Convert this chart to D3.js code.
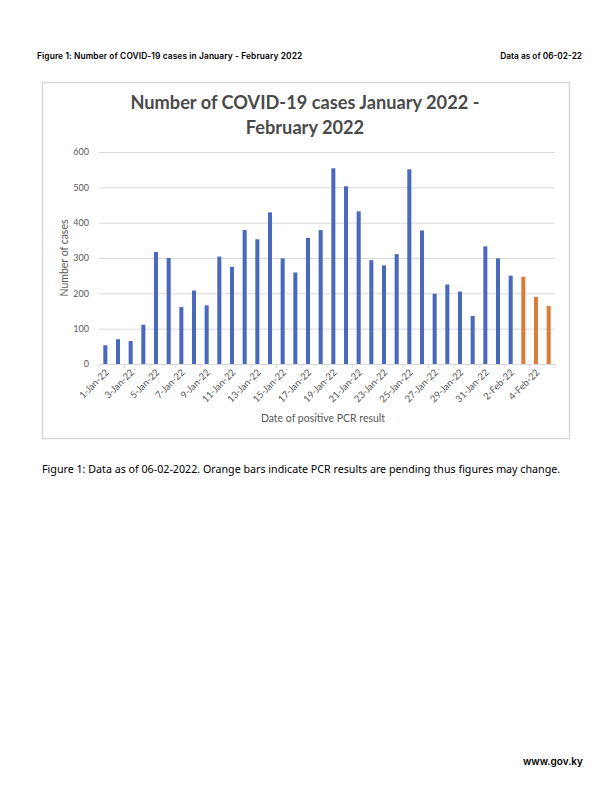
<!DOCTYPE html>
<html>
<head>
<meta charset="utf-8">
<script src="https://cdn.jsdelivr.net/npm/d3@7"></script>
<style>
  html, body { margin: 0; padding: 0; background: #fff; }
  svg { display: block; }
</style>
</head>
<body>
<div id="page"></div>
<script>
// data
var dates = ['1-Jan-22','2-Jan-22','3-Jan-22','4-Jan-22','5-Jan-22','6-Jan-22','7-Jan-22','8-Jan-22',
  '9-Jan-22','10-Jan-22','11-Jan-22','12-Jan-22','13-Jan-22','14-Jan-22','15-Jan-22','16-Jan-22',
  '17-Jan-22','18-Jan-22','19-Jan-22','20-Jan-22','21-Jan-22','22-Jan-22','23-Jan-22','24-Jan-22',
  '25-Jan-22','26-Jan-22','27-Jan-22','28-Jan-22','29-Jan-22','30-Jan-22','31-Jan-22','1-Feb-22',
  '2-Feb-22','3-Feb-22','4-Feb-22','5-Feb-22'];
var cases = [53, 70, 65, 111, 317, 300, 161, 208, 166, 304, 275, 379, 353, 429, 299, 259,
  357, 379, 554, 503, 432, 294, 279, 311, 551, 378, 199, 225, 205, 136, 333, 299,
  250, 247, 190, 164];
var pending = ['3-Feb-22', '4-Feb-22', '5-Feb-22'];
var yTicks = [0, 100, 200, 300, 400, 500, 600];

var chartFont = 'Lato, Carlito, "Open Sans", sans-serif';
var grey = '#595959';

var W = 612, H = 791;
var svg = d3.select('#page').append('svg')
    .attr('width', W)
    .attr('height', H);

// page header
svg.append('text')
    .attr('x', 37).attr('y', 59)
    .style('font-family', 'Inter, "Liberation Sans", sans-serif')
    .style('font-size', '8.4px').style('font-weight', 600)
    .style('letter-spacing', '0.1px')
    .text('Figure 1: Number of COVID-19 cases in January - February 2022');
svg.append('text')
    .attr('x', 582).attr('y', 59)
    .attr('text-anchor', 'end')
    .style('font-family', 'Inter, "Liberation Sans", sans-serif')
    .style('font-size', '8.3px').style('font-weight', 600)
    .text('Data as of 06-02-22');

// chart frame
svg.append('rect')
    .attr('x', 42.5).attr('y', 82.5)
    .attr('width', 527).attr('height', 356)
    .attr('fill', '#fff')
    .attr('stroke', '#d9d9d9')
    .attr('stroke-width', 1.5);

var margin = {top: 152, left: 99};
var chartWidth = 456, chartHeight = 212;

var g = svg.append('g')
    .attr('transform', `translate(${margin.left}, ${margin.top})`);

var xScale = d3.scaleBand()
    .domain(dates)
    .range([0, chartWidth])
    .paddingInner(0.68)
    .paddingOuter(0.34);
var yScale = d3.scaleLinear()
    .domain([0, 600])
    .range([chartHeight, 0]);

// gridlines + y labels
var yAxis = d3.axisLeft(yScale)
    .tickValues(yTicks)
    .tickSize(-chartWidth)
    .tickPadding(10);
g.append('g')
    .attr('class', 'y axis')
    .call(yAxis)
    .call(s => s.select('.domain').remove())
    .call(s => s.selectAll('line').attr('stroke', '#d9d9d9').attr('stroke-width', 1))
    .call(s => s.selectAll('text')
        .style('fill', grey)
        .style('font-family', chartFont)
        .style('font-size', '9px'));

// x axis line + ticks every two categories
var step = xScale.step();
g.append('line')
    .attr('x1', 0).attr('x2', chartWidth)
    .attr('y1', chartHeight + 0.5).attr('y2', chartHeight + 0.5)
    .attr('stroke', '#d9d9d9');
g.selectAll('.xtick')
    .data(dates.filter((d, i) => i % 2 == 0).concat(['end']))
    .enter()
    .append('line')
    .attr('class', 'xtick')
    .attr('x1', d => d == 'end' ? chartWidth : xScale(d) - xScale.paddingOuter() * step)
    .attr('x2', d => d == 'end' ? chartWidth : xScale(d) - xScale.paddingOuter() * step)
    .attr('y1', chartHeight)
    .attr('y2', chartHeight + 4)
    .attr('stroke', '#d9d9d9');

// x labels, every other date, rotated
g.selectAll('.xlabel')
    .data(dates.filter((d, i) => i % 2 == 0))
    .enter()
    .append('text')
    .attr('class', 'xlabel')
    .attr('text-anchor', 'end')
    .style('fill', grey)
    .style('font-family', chartFont)
    .style('font-size', '9.5px')
    .attr('transform', d => `translate(${xScale(d) + xScale.bandwidth() / 2 + 4}, ${chartHeight + 9}) rotate(-45)`)
    .text(d => d);

// bars
g.selectAll('.bar')
    .data(dates)
    .enter()
    .append('rect')
    .attr('class', 'bar')
    .attr('x', d => xScale(d))
    .attr('y', (d, i) => yScale(cases[i]))
    .attr('width', xScale.bandwidth())
    .attr('height', (d, i) => chartHeight - yScale(cases[i]))
    .attr('fill', d => pending.includes(d) ? '#db7d3a' : '#4a69bd');

// axis titles
svg.append('text')
    .attr('transform', 'translate(68, 258) rotate(-90)')
    .attr('text-anchor', 'middle')
    .style('fill', grey)
    .style('font-family', chartFont)
    .style('font-size', '10.5px')
    .text('Number of cases');
svg.append('text')
    .attr('x', 323).attr('y', 422)
    .attr('text-anchor', 'middle')
    .style('fill', grey)
    .style('font-family', chartFont)
    .style('font-size', '10.5px')
    .text('Date of positive PCR result');

// chart title
var title = svg.append('text')
    .attr('text-anchor', 'middle')
    .style('fill', '#4a4a4a')
    .style('font-family', chartFont)
    .style('font-size', '18.2px')
    .style('font-weight', 700);
title.append('tspan').attr('x', 305).attr('y', 109).text('Number of COVID-19 cases January 2022 -');
title.append('tspan').attr('x', 305).attr('y', 134).text('February 2022');

// caption
svg.append('text')
    .attr('x', 42).attr('y', 473)
    .style('font-family', '"Noto Sans", Poppins, sans-serif')
    .style('font-size', '10.7px')
    .text('Figure 1: Data as of 06-02-2022. Orange bars indicate PCR results are pending thus figures may change.');

// footer
svg.append('text')
    .attr('x', 583).attr('y', 765)
    .attr('text-anchor', 'end')
    .style('font-family', 'Inter, "Liberation Sans", sans-serif')
    .style('font-size', '10px').style('font-weight', 600)
    .text('www.gov.ky');
</script>
</body>
</html>
